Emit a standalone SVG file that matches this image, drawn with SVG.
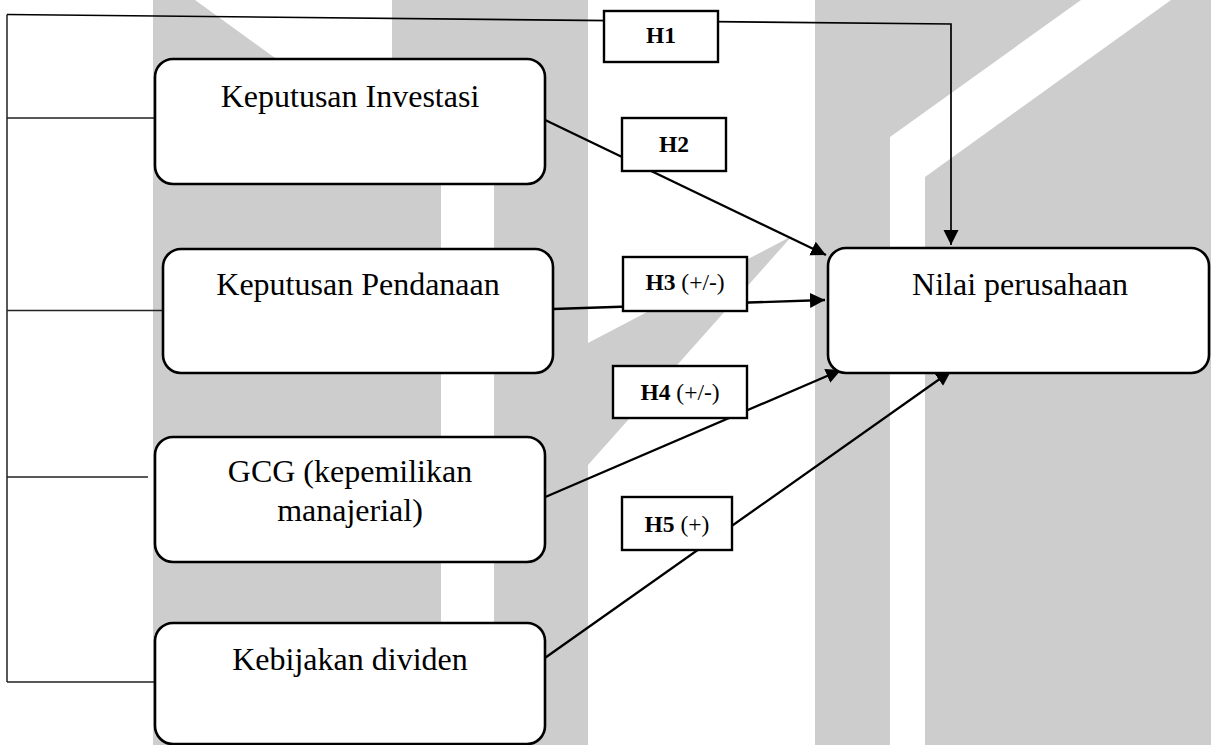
<svg xmlns="http://www.w3.org/2000/svg" width="1211" height="745" viewBox="0 0 1211 745">
<defs>
<marker id="arr" markerUnits="userSpaceOnUse" markerWidth="16" markerHeight="16" refX="15" refY="7.5" orient="auto">
<path d="M0,0 L15,7.5 L0,15 z" fill="#000"/>
</marker>
<style>
.bg{fill:#cdcdcd}
.wh{fill:#ffffff}
.node{fill:#fff;stroke:#000;stroke-width:2.6}
.lbl{fill:#fff;stroke:#000;stroke-width:2.4}
.br{fill:none;stroke:#222;stroke-width:1.5}
.con{fill:none;stroke:#000;stroke-width:2.3}
.t{font-family:"Liberation Serif","Times New Roman",serif;font-size:32px;fill:#000;text-anchor:middle}
.h{font-family:"Liberation Serif","Times New Roman",serif;font-size:23.5px;fill:#000;text-anchor:middle}
.b{font-weight:bold}
</style>
</defs>
<rect width="1211" height="745" fill="#fff"/>
<g id="background">
<rect class="bg" x="153" y="0" width="435" height="745"/>
<polygon class="wh" points="195,0 392,0 392,104 494,178 494,745 441,745 441,178"/>
<rect class="bg" x="815" y="0" width="396" height="745"/>
<polygon class="wh" points="890,745 890,137 1081,0 1171,0 925,177 925,745"/>
<polygon class="bg" points="588,343 792,236 588,465"/>
</g>
<g id="connectors">
<path class="br" d="M7,14.5 L7,682 M7,118 L155,118 M7,310.5 L163,310.5 M7,477 L148,477 M7,682 L155,682"/>
<polyline class="con" points="7,14.5 951,24 951,245" marker-end="url(#arr)" style="stroke-width:1.7"/>
<line class="con" x1="541" y1="118" x2="826" y2="255" marker-end="url(#arr)"/>
<line class="con" x1="553" y1="309" x2="825" y2="300" marker-end="url(#arr)"/>
<line class="con" x1="543" y1="498" x2="841" y2="370" marker-end="url(#arr)"/>
<line class="con" x1="542" y1="660" x2="951" y2="371" marker-end="url(#arr)"/>
</g>
<g id="node-investasi">
<rect class="node" x="155" y="59" width="390" height="125" rx="18"/>
<text class="t" x="350" y="107">Keputusan Investasi</text>
</g>
<g id="node-pendanaan">
<rect class="node" x="163" y="249" width="390" height="124" rx="18"/>
<text class="t" x="358" y="295">Keputusan Pendanaan</text>
</g>
<g id="node-gcg">
<rect class="node" x="155" y="437" width="390" height="125" rx="18"/>
<text class="t" x="350" y="482">GCG (kepemilikan</text>
<text class="t" x="350" y="521">manajerial)</text>
</g>
<g id="node-dividen">
<rect class="node" x="155" y="623" width="390" height="121" rx="18"/>
<text class="t" x="350" y="670">Kebijakan dividen</text>
</g>
<g id="node-nilai">
<rect class="node" x="828" y="248" width="381" height="125" rx="18"/>
<text class="t" x="1020" y="295">Nilai perusahaan</text>
</g>
<g id="label-h1">
<rect class="lbl" x="604" y="11" width="114" height="51"/>
<text class="h b" x="661" y="43">H1</text>
</g>
<g id="label-h2">
<rect class="lbl" x="622" y="118" width="104" height="53"/>
<text class="h b" x="674" y="152">H2</text>
</g>
<g id="label-h3">
<rect class="lbl" x="623" y="257" width="124" height="54"/>
<text class="h" x="685" y="290"><tspan class="b">H3</tspan> (+/-)</text>
</g>
<g id="label-h4">
<rect class="lbl" x="613" y="366" width="134" height="52"/>
<text class="h" x="680" y="400"><tspan class="b">H4</tspan> (+/-)</text>
</g>
<g id="label-h5">
<rect class="lbl" x="622" y="497" width="110" height="53"/>
<text class="h" x="677" y="532"><tspan class="b">H5</tspan> (+)</text>
</g>
</svg>
